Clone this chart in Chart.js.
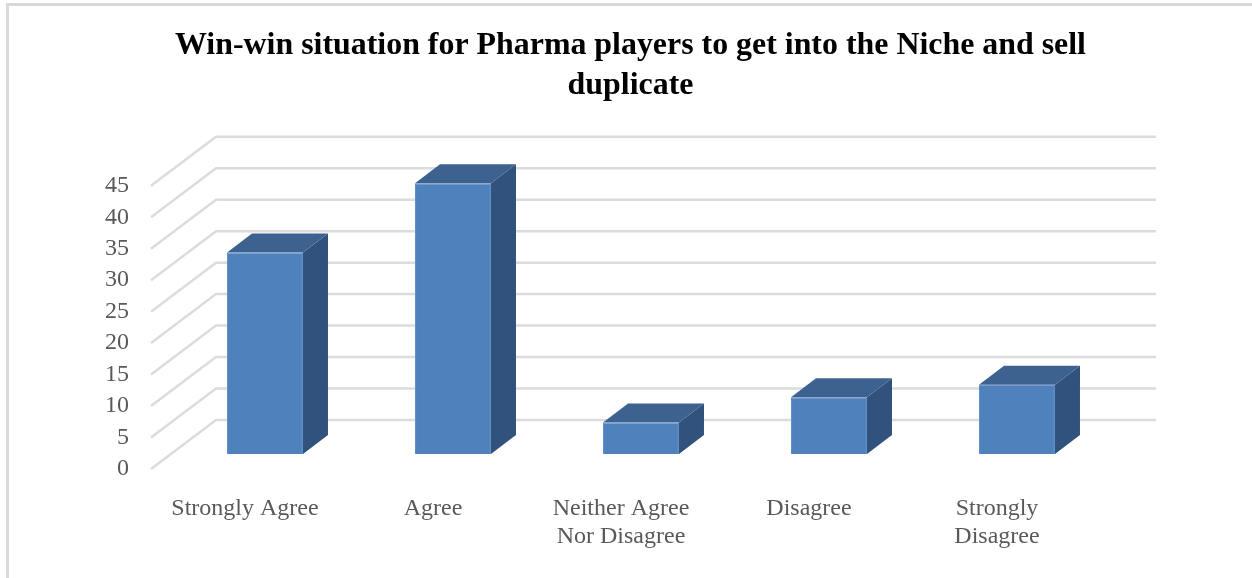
<!DOCTYPE html>
<html>
<head>
<meta charset="utf-8">
<title>Win-win situation</title>
<script src="https://cdn.jsdelivr.net/npm/chart.js@4"></script>
<style>
  html, body { margin: 0; padding: 0; background: #fff; overflow: hidden; }
  #frame {
    position: absolute; left: 6px; top: 3px; width: 1246px; height: 575px;
    border-left: 3px solid #d9d9d9; border-top: 3px solid #d9d9d9;
  }
  canvas { display: block; }
</style>
</head>
<body>
<div id="frame"><canvas id="chart" width="1243" height="572"></canvas></div>
<script>
  const titleLines = ["Win-win situation for Pharma players to get into the Niche and sell", "duplicate"];
  const categories = ["Strongly Agree", "Agree", ["Neither Agree", "Nor Disagree"], "Disagree", ["Strongly", "Disagree"]];
  const responses = [32, 43, 5, 9, 11];

  // Depth of the fake 3D box: floor front edge -> bar front -> back wall
  const BAR_DX = 20, BAR_DY = -15;
  const WALL_DX = 65, WALL_DY = -49;
  const BOX_DX = 25, BOX_DY = -19;

  const wallsPlugin = {
    id: 'walls',
    beforeDatasetsDraw(chart) {
      const { ctx, chartArea, scales } = chart;
      ctx.save();
      ctx.strokeStyle = "#dcdcdc";
      ctx.lineWidth = 2.5;
      for (const tick of scales.y.ticks) {
        const y = scales.y.getPixelForValue(tick.value);
        ctx.beginPath();
        ctx.moveTo(chartArea.left, y);
        ctx.lineTo(chartArea.left + WALL_DX, y + WALL_DY);
        ctx.lineTo(chartArea.right + WALL_DX, y + WALL_DY);
        ctx.stroke();
      }
      ctx.restore();

      // bars sit a little way into the floor, so shift the whole dataset layer
      ctx.save();
      ctx.translate(BAR_DX, BAR_DY);
      for (const bar of chart.getDatasetMeta(0).data) {
        const left = bar.x - bar.width / 2;
        const right = bar.x + bar.width / 2;
        ctx.fillStyle = "#31527c";
        ctx.beginPath();
        ctx.moveTo(right, bar.y);
        ctx.lineTo(right + BOX_DX, bar.y + BOX_DY);
        ctx.lineTo(right + BOX_DX, bar.base + BOX_DY);
        ctx.lineTo(right, bar.base);
        ctx.closePath();
        ctx.fill();
        ctx.fillStyle = "#3d628f";
        ctx.beginPath();
        ctx.moveTo(left, bar.y);
        ctx.lineTo(left + BOX_DX, bar.y + BOX_DY);
        ctx.lineTo(right + BOX_DX, bar.y + BOX_DY);
        ctx.lineTo(right, bar.y);
        ctx.closePath();
        ctx.fill();
      }
    },
    afterDatasetsDraw(chart) {
      chart.ctx.restore();
    }
  };

  new Chart(document.getElementById("chart"), {
    type: 'bar',
    data: {
      labels: categories,
      datasets: [{
        data: responses,
        backgroundColor: "#4f81bd",
        borderColor: "#5c8bc6",
        borderWidth: 1,
        barPercentage: 1,
        categoryPercentage: 0.404,
        clip: false
      }]
    },
    options: {
      responsive: false,
      animation: false,
      scales: {
        x: {
          grid: { display: false },
          border: { display: false },
          ticks: {
            color: "#595959",
            maxRotation: 0,
            autoSkip: false,
            padding: 17,
            font: { family: "'Liberation Serif'", size: 24 }
          },
          afterFit(scale) { scale.height = 109; }
        },
        y: {
          min: 0,
          max: 45,
          grid: { display: false },
          border: { display: false },
          ticks: {
            stepSize: 5,
            autoSkip: false,
            color: "#595959",
            padding: 14,
            font: { family: "'Liberation Serif'", size: 24 }
          },
          afterFit(scale) { scale.width = 142; }
        },
        // empty axis that keeps the plot clear of the right-hand margin
        margin: {
          position: 'right',
          grid: { display: false },
          border: { display: false },
          ticks: { display: false },
          afterFit(scale) { scale.width = 161; }
        }
      },
      plugins: {
        legend: { display: false },
        tooltip: { enabled: false },
        title: {
          display: true,
          text: titleLines,
          color: "#000000",
          font: { family: "'Liberation Serif'", size: 31.9, weight: 'bold', lineHeight: 1.25 },
          padding: { top: 20, bottom: 80 }
        }
      }
    },
    plugins: [wallsPlugin]
  });
</script>
</body>
</html>
